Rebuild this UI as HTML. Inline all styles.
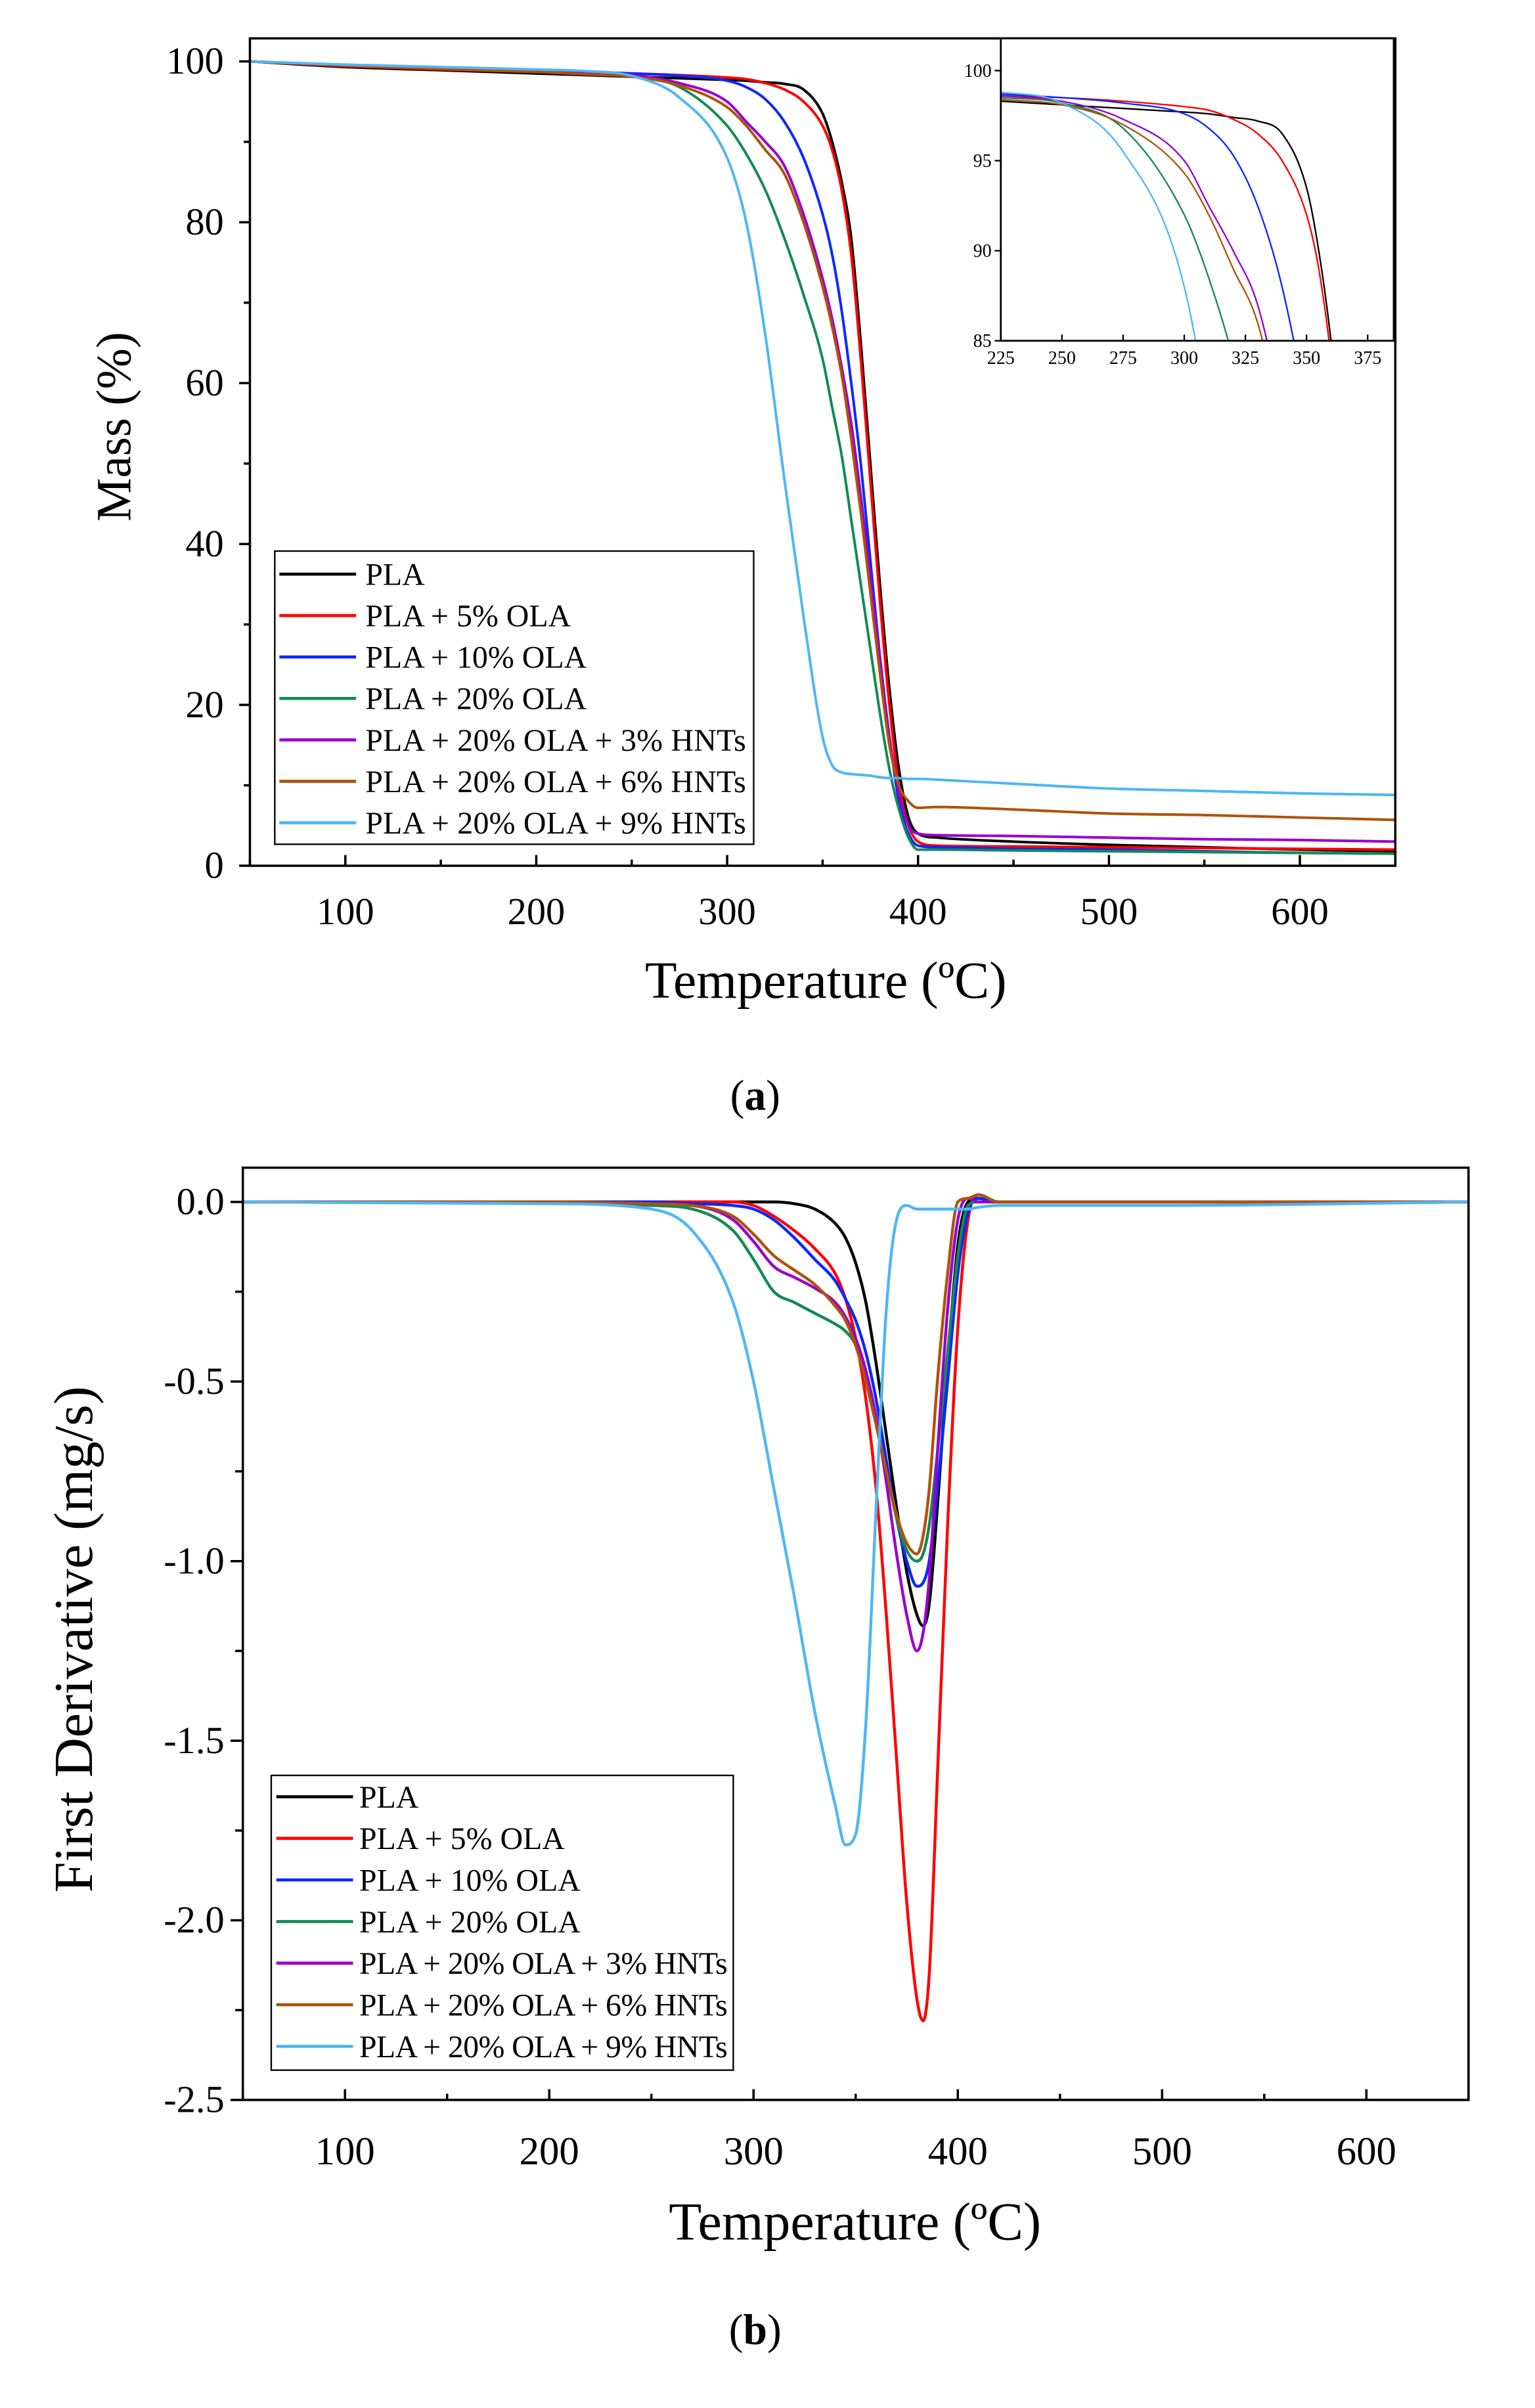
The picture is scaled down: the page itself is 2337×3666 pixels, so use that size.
<!DOCTYPE html>
<html><head><meta charset="utf-8"><style>
html,body{margin:0;padding:0;background:#fff;}
svg{display:block;}
text{font-family:"Liberation Serif",serif;fill:#000;}
</style></head><body>
<svg id="fig" xmlns="http://www.w3.org/2000/svg" width="2337" height="3666" viewBox="0 0 1000 1568.7">
<rect x="0" y="0" width="1000" height="1568.7" fill="#fff"/>
<g id="chartA"></g>
<g id="chartB"></g>
</svg>
<script>
// ---------- data: TGA (mass %) ----------
const tgaTemps = [50,100,150,200,225,250,275,300,310,320,330,340,350,355,360,365,370,375,380,385,390,395,400,410,450,500,550,600,650];
const tgaPLA   = [100,99.3,98.9,98.5,98.3,98.1,97.9,97.7,97.6,97.4,97.2,96.5,93.5,90,85,78,65,50,35,22,12,6,4,3.5,3.0,2.6,2.3,2.0,1.8];
const tgaOLA5  = [100,99.4,99.0,98.7,98.6,98.5,98.3,98.0,97.8,97.3,96.5,95,92,89,84,76,63,48,33,20,10,5,3,2.5,2.4,2.3,2.2,2.1,2.0];
const tgaOLA10 = [100,99.5,99.1,98.8,98.7,98.5,98.2,97.6,96.8,95.3,92.5,88,81,76,69,60,50,38,26,16,8,4,2.5,2.3,2.1,2.0,1.8,1.6,1.5];
const tgaOLA20 = [100,99.5,99.1,98.7,98.5,98.2,96.8,92,88.5,84,78,71,63,57,51,43,35,27,19,12,7,3.5,2,2,1.9,1.8,1.7,1.6,1.5];
const tgaHNT3  = [100,99.5,99.1,98.8,98.6,98.3,97.3,95,92.5,90,87,81,73,68,62,55,46,36,26,16,9,5,4,3.8,3.7,3.5,3.3,3.2,3.0];
const tgaHNT6  = [100,99.5,99.1,98.7,98.4,98.1,97,94.3,92,89,86,80,72,67,61,53,44,34,24,15,10,8,7.2,7.3,7.0,6.5,6.3,6.0,5.7];
const tgaHNT9  = [100,99.6,99.3,99.0,98.8,98.2,95.5,88,80,66,48,31,16,12.5,11.6,11.4,11.3,11.2,11,10.9,10.9,10.8,10.8,10.7,10.2,9.6,9.3,9.0,8.8];

// ---------- data: DTG (mg/s) ----------
const dtgTemps = [50,200,250,270,290,300,310,320,330,340,345,350,355,360,365,370,375,380,383,386,390,395,400,405,410,420,500,650];
const dtgPLA   = [0,0,0,0,0,0,0,-0.005,-0.02,-0.06,-0.1,-0.17,-0.28,-0.45,-0.65,-0.85,-1.03,-1.15,-1.18,-1.12,-0.85,-0.45,-0.12,0,0.01,0,0,0];
const dtgOLA5  = [0,0,0,0,0,-0.01,-0.04,-0.08,-0.13,-0.2,-0.27,-0.38,-0.55,-0.8,-1.15,-1.55,-1.95,-2.22,-2.28,-2.15,-1.6,-0.9,-0.35,-0.05,0.02,0,0,0];
const dtgOLA10 = [0,0,0,-0.005,-0.01,-0.02,-0.05,-0.1,-0.16,-0.22,-0.27,-0.33,-0.42,-0.55,-0.72,-0.88,-1.0,-1.07,-1.06,-1.0,-0.8,-0.5,-0.2,-0.03,0.01,0,0,0];
const dtgOLA20 = [0,0,-0.01,-0.02,-0.08,-0.16,-0.25,-0.28,-0.31,-0.34,-0.36,-0.4,-0.5,-0.62,-0.75,-0.88,-0.97,-1.0,-0.98,-0.9,-0.7,-0.42,-0.15,-0.01,0,0,0,0];
const dtgHNT3  = [0,0,-0.005,-0.01,-0.05,-0.11,-0.18,-0.21,-0.24,-0.28,-0.32,-0.38,-0.47,-0.6,-0.78,-0.98,-1.15,-1.25,-1.2,-1.05,-0.7,-0.3,-0.05,0.01,0,0,0,0];
const dtgHNT6  = [0,0,-0.005,-0.01,-0.04,-0.09,-0.15,-0.19,-0.23,-0.29,-0.33,-0.4,-0.5,-0.62,-0.75,-0.87,-0.95,-0.98,-0.93,-0.8,-0.5,-0.2,0,0.01,0.02,0,0,0];
const dtgHNT9  = [0,-0.005,-0.02,-0.08,-0.28,-0.5,-0.8,-1.1,-1.42,-1.68,-1.79,-1.76,-1.45,-0.85,-0.3,-0.05,-0.01,-0.02,-0.02,-0.02,-0.02,-0.02,-0.02,-0.02,-0.015,-0.01,-0.01,0];

const seriesNames = ["PLA","PLA + 5% OLA","PLA + 10% OLA","PLA + 20% OLA","PLA + 20% OLA + 3% HNTs","PLA + 20% OLA + 6% HNTs","PLA + 20% OLA + 9% HNTs"];
const seriesColors = ["#000000","#ff0000","#0a28ff","#138a55","#9900cc","#b0520a","#4fb6f5"];
const tgaSeries = [tgaPLA,tgaOLA5,tgaOLA10,tgaOLA20,tgaHNT3,tgaHNT6,tgaHNT9];
const dtgSeries = [dtgPLA,dtgOLA5,dtgOLA10,dtgOLA20,dtgHNT3,dtgHNT6,dtgHNT9];
const tgaYTicks = [0,20,40,60,80,100];
const xTicks = [100,200,300,400,500,600];
const insetXTicks = [225,250,275,300,325,350,375];
const insetYTicks = [85,90,95,100];
const dtgYTicks = [0,-0.5,-1.0,-1.5,-2.0,-2.5];
const dtgYLabels = ["0.0","-0.5","-1.0","-1.5","-2.0","-2.5"];

const NS = "http://www.w3.org/2000/svg";
function el(tag, attrs, parent, txt){
  const e = document.createElementNS(NS, tag);
  for (const k in attrs) e.setAttribute(k, attrs[k]);
  if (txt !== undefined) e.textContent = txt;
  parent.appendChild(e);
  return e;
}
function lin(d0,d1,r0,r1){ return v => r0 + (v-d0)*(r1-r0)/(d1-d0); }
// monotone cubic (Fritsch-Carlson) smooth path
function pathFrom(xs, ys, sx, sy){
  const X = xs.map(sx), Y = ys.map(sy), n = X.length;
  const d = [], m = [];
  for (let i=0;i<n-1;i++){ d.push((Y[i+1]-Y[i])/(X[i+1]-X[i])); }
  m[0]=d[0]; m[n-1]=d[n-2];
  for (let i=1;i<n-1;i++){ m[i] = (d[i-1]*d[i]<=0) ? 0 : (d[i-1]+d[i])/2; }
  for (let i=0;i<n-1;i++){
    if (d[i]===0){ m[i]=0; m[i+1]=0; continue; }
    const a=m[i]/d[i], b=m[i+1]/d[i], s=a*a+b*b;
    if (s>9){ const t=3/Math.sqrt(s); m[i]=t*a*d[i]; m[i+1]=t*b*d[i]; }
  }
  let p = "M"+X[0].toFixed(2)+","+Y[0].toFixed(2);
  for (let i=0;i<n-1;i++){
    const h=(X[i+1]-X[i])/3;
    p += "C"+(X[i]+h).toFixed(2)+","+(Y[i]+m[i]*h).toFixed(2)+" "+(X[i+1]-h).toFixed(2)+","+(Y[i+1]-m[i+1]*h).toFixed(2)+" "+X[i+1].toFixed(2)+","+Y[i+1].toFixed(2);
  }
  return p;
}

// ================= Chart A =================
(function(){
  const g = document.getElementById("chartA");
  const L=162.8, R=909, T=25, B=564;
  const sx = lin(50,650,L,R), sy = lin(0,100,564,40);
  const cp = el("clipPath",{id:"clipA"},g); el("rect",{x:L,y:T,width:R-L,height:B-T},cp);
  const series = el("g",{"clip-path":"url(#clipA)"},g);
  
  
  tgaSeries.forEach((s,i)=>{
    const p = el("path",{d:pathFrom(tgaTemps,s,sx,sy),fill:"none",stroke:seriesColors[i],"stroke-width":1.7,"stroke-linejoin":"round"},series);
    
    
  });
  const frame = el("rect",{x:L,y:T,width:R-L,height:B-T,fill:"none",stroke:"#000","stroke-width":1.5},g);
  
  
  for (let t=50;t<=650;t+=50){
    const major = t%100===0;
    el("line",{x1:sx(t),x2:sx(t),y1:B,y2:B-(major?7:4),stroke:"#000","stroke-width":1.5},g);
  }
  xTicks.forEach(t=>{
    const tx = el("text",{x:sx(t),y:B+38,"font-size":25,"text-anchor":"middle"},g,String(t));
    
    
  });
  for (let v=0; v<=100; v+=10){
    const major = v%20===0;
    el("line",{x1:L,x2:L-(major?7:4),y1:sy(v),y2:sy(v),stroke:"#000","stroke-width":1.5},g);
  }
  tgaYTicks.forEach(v=>{
    const tx = el("text",{x:L-17,y:sy(v)+8,"font-size":25,"text-anchor":"end"},g,String(v));
    
    
  });
  const yt = el("text",{x:0,y:0,"font-size":32,"text-anchor":"middle",transform:"translate(85,278) rotate(-90)"},g,"Mass  (%)");
  
  
  const xt = el("text",{x:538,y:650,"font-size":34,"text-anchor":"middle"},g,"Temperature (ºC)");
  
  
  const cap = el("text",{x:492,y:723,"font-size":28,"text-anchor":"middle"},g);
  
  
  el("tspan",{},cap,"(");el("tspan",{"font-weight":"bold"},cap,"a");el("tspan",{},cap,")");

  // inset
  const IL=652, IR=908, IT=25, IB=222;
  const ix = lin(225,375,IL,891), iy = lin(85,100,222,46);
  el("rect",{x:IL,y:IT,width:IR-IL,height:IB-IT,fill:"#fff"},g);
  const cpi = el("clipPath",{id:"clipI"},g); el("rect",{x:IL,y:IT,width:IR-IL,height:IB-IT},cpi);
  const ins = el("g",{"clip-path":"url(#clipI)"},g);
  
  
  tgaSeries.forEach((s,i)=>{
    const p = el("path",{d:pathFrom(tgaTemps,s,ix,iy),fill:"none",stroke:seriesColors[i],"stroke-width":1,"stroke-linejoin":"round"},ins);
    
    
  });
  const ifr = el("rect",{x:IL,y:IT,width:IR-IL,height:IB-IT,fill:"none",stroke:"#000","stroke-width":1.2},g);
  
  
  insetXTicks.forEach(t=>{
    el("line",{x1:ix(t),x2:ix(t),y1:IB,y2:IB-4,stroke:"#000","stroke-width":1},g);
    const tx = el("text",{x:ix(t),y:IB+15,"font-size":12,"text-anchor":"middle"},g,String(t));
    
    
  });
  insetYTicks.forEach(v=>{
    el("line",{x1:IL,x2:IL-4,y1:iy(v),y2:iy(v),stroke:"#000","stroke-width":1},g);
    const tx = el("text",{x:IL-6,y:iy(v)+4,"font-size":12,"text-anchor":"end"},g,String(v));
    
    
  });

  const lg = el("g",{},g);
  
  
  el("rect",{x:179,y:359,width:312,height:191,fill:"#fff",stroke:"#000","stroke-width":1},lg);
  seriesNames.forEach((n,i)=>{
    const y = 374 + i*27;
    el("line",{x1:182,x2:232,y1:y,y2:y,stroke:seriesColors[i],"stroke-width":2},lg);
    const tx = el("text",{x:238,y:y+7,"font-size":20.5,"textLength":n.length>20?248:undefined},lg,n);
    if (n.length<=20) tx.removeAttribute("textLength");
    
    
  });
})();

// ================= Chart B =================
(function(){
  const g = document.getElementById("chartB");
  const L=158.2, R=956.7, T=760.7, B=1368;
  const sx = lin(50,650,L,R), sy = lin(0,-2.5,783,1368);
  const cp = el("clipPath",{id:"clipB"},g); el("rect",{x:L,y:T,width:R-L,height:B-T},cp);
  const series = el("g",{"clip-path":"url(#clipB)"},g);
  
  
  dtgSeries.forEach((s,i)=>{
    const p = el("path",{d:pathFrom(dtgTemps,s,sx,sy),fill:"none",stroke:seriesColors[i],"stroke-width":1.9,"stroke-linejoin":"round"},series);
    
    
  });
  const frame = el("rect",{x:L,y:T,width:R-L,height:B-T,fill:"none",stroke:"#000","stroke-width":1.5},g);
  
  
  for (let t=50;t<=650;t+=50){
    const major = t%100===0;
    el("line",{x1:sx(t),x2:sx(t),y1:B,y2:B-(major?7:4),stroke:"#000","stroke-width":1.5},g);
  }
  xTicks.forEach(t=>{
    const tx = el("text",{x:sx(t),y:B+42,"font-size":26,"text-anchor":"middle"},g,String(t));
    
    
  });
  for (let v=0; v>=-2.5; v-=0.25){
    const major = Math.abs(v*2-Math.round(v*2))<1e-6;
    el("line",{x1:L,x2:L-(major?8:5),y1:sy(v),y2:sy(v),stroke:"#000","stroke-width":1.5},g);
  }
  dtgYTicks.forEach((v,i)=>{
    const tx = el("text",{x:L-12,y:sy(v)+8,"font-size":25,"text-anchor":"end"},g,dtgYLabels[i]);
    
    
  });
  const yt = el("text",{x:0,y:0,"font-size":36,"text-anchor":"middle",transform:"translate(60,1068) rotate(-90)"},g,"First Derivative (mg/s)");
  
  
  const xt = el("text",{x:557,y:1459,"font-size":35,"text-anchor":"middle"},g,"Temperature (ºC)");
  
  
  const cap = el("text",{x:492,y:1527,"font-size":28,"text-anchor":"middle"},g);
  
  
  el("tspan",{},cap,"(");el("tspan",{"font-weight":"bold"},cap,"b");el("tspan",{},cap,")");

  const lg = el("g",{},g);
  
  
  el("rect",{x:176.7,y:1156.6,width:301,height:192,fill:"#fff",stroke:"#000","stroke-width":1},lg);
  seriesNames.forEach((n,i)=>{
    const y = 1170.5 + i*27.1;
    el("line",{x1:180,x2:230,y1:y,y2:y,stroke:seriesColors[i],"stroke-width":2},lg);
    const tx = el("text",{x:234,y:y+7,"font-size":20.5},lg,n);
    if (n.length>20) tx.setAttribute("textLength","240");
    
    
  });
})();
</script>
</body></html>
